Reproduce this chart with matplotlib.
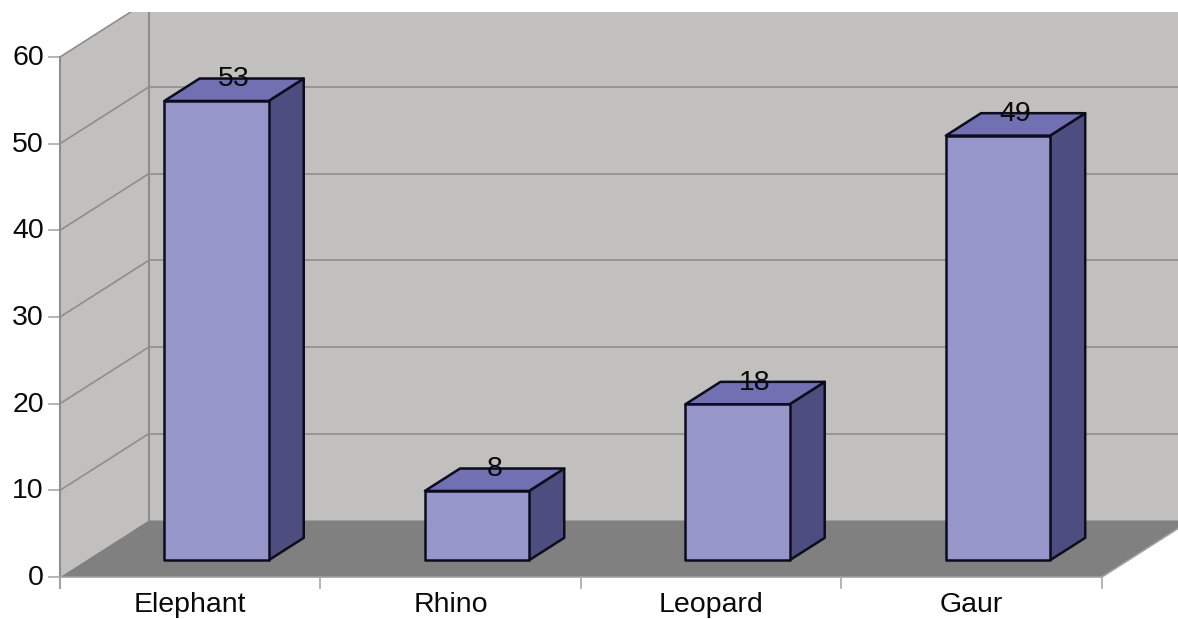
import matplotlib
matplotlib.use("Agg")
from matplotlib import pyplot as plt
from matplotlib.patches import Polygon, Rectangle

animals = ["Elephant", "Rhino", "Leopard", "Gaur"]
counts = [53, 8, 18, 49]
y_ticks = [0, 10, 20, 30, 40, 50, 60]

# depth of the fake 3d box, in data units
depth_x = 0.3417
depth_y = 6.55
bar_w = 0.4
bar_start = 0.295   # how far into the box the bar stands
bar_depth = 0.395

wall_col = "#c1c0be"
floor_col = "#808080"
grid_col = "#8e8e8e"
front_col = "#9696ca"
top_col = "#7070b2"
side_col = "#4d4d80"
edge_col = "#0c0c1c"
text_col = "#0a0a0a"

plt.rcParams["font.family"] = ["Liberation Sans", "DejaVu Sans"]

fig = plt.figure(figsize=(11.78, 6.19), dpi=100)
ax = fig.add_axes([0, 0, 1, 1])
ax.set_xlim(-0.2303, 4.292)
ax.set_ylim(-4.846, 66.58)
ax.axis("off")

n = len(animals)
y_max = y_ticks[-1]
clip = Rectangle((-0.2303, -4.846), 4.6, 70.03, transform=ax.transData)

# walls and floor
back = Polygon([(depth_x, depth_y), (5, depth_y), (5, y_max + depth_y), (depth_x, y_max + depth_y)],
               fc=wall_col, ec="none", zorder=1)
left = Polygon([(0, 0), (depth_x, depth_y), (depth_x, y_max + depth_y), (0, y_max)],
               fc=wall_col, ec="none", zorder=1)
floor = Polygon([(0, 0), (n, 0), (n + depth_x, depth_y), (depth_x, depth_y)],
                fc=floor_col, ec="none", zorder=2)
for p in [back, left, floor]:
    ax.add_patch(p)
    p.set_clip_path(clip)

# gridlines
for t in y_ticks:
    if t > 0:
        l1, = ax.plot([0, depth_x], [t, t + depth_y], color=grid_col, lw=1.2, zorder=3)
        l2, = ax.plot([depth_x, 5], [t + depth_y, t + depth_y], color=grid_col, lw=1.2, zorder=3)
        l1.set_clip_path(clip)
        l2.set_clip_path(clip)
    ax.plot([-0.042, 0], [t, t], color="#a8a8a8", lw=1.2, zorder=3)
    ax.text(-0.062, t - 0.1, str(t), ha="right", va="center", fontsize=20.5, color=text_col, zorder=6)

l3, = ax.plot([depth_x, depth_x], [depth_y, y_max + depth_y], color=grid_col, lw=1.5, zorder=3)
l3.set_clip_path(clip)
ax.plot([0, 0], [-1.27, y_max], color=grid_col, lw=1.5, zorder=3)
ax.plot([0, n], [0, 0], color="#a0a0a0", lw=1.2, zorder=3)
l4, = ax.plot([n, n + depth_x], [0, depth_y], color="#a0a0a0", lw=1.2, zorder=3)
l4.set_clip_path(clip)
for i in range(n + 1):
    ax.plot([i, i], [-1.27, 0], color="#a8a8a8", lw=1.2, zorder=3)

# bars
for i, (name, v) in enumerate(zip(animals, counts)):
    x0 = i + 0.5 - bar_w / 2 + bar_start * depth_x
    x1 = x0 + bar_w
    y0 = bar_start * depth_y
    y1 = y0 + v
    dx = bar_depth * depth_x
    dy = bar_depth * depth_y
    ax.add_patch(Polygon([(x1, y0), (x1 + dx, y0 + dy), (x1 + dx, y1 + dy), (x1, y1)],
                         fc=side_col, ec=edge_col, lw=1.8, joinstyle="round", zorder=4))
    ax.add_patch(Polygon([(x0, y1), (x0 + dx, y1 + dy), (x1 + dx, y1 + dy), (x1, y1)],
                         fc=top_col, ec=edge_col, lw=1.8, joinstyle="round", zorder=4))
    ax.add_patch(Polygon([(x0, y0), (x1, y0), (x1, y1), (x0, y1)],
                         fc=front_col, ec=edge_col, lw=1.8, joinstyle="round", zorder=5))
    ax.text((x0 + x1) / 2 + dx / 2, y1 + dy - 0.1, str(v), ha="center", va="center",
            fontsize=20.5, color=text_col, zorder=6)
    ax.text(i + 0.5, -4.05, name, ha="center", va="baseline", fontsize=20.5, color=text_col, zorder=6)

fig.savefig("out.png", dpi=100, facecolor="white")
